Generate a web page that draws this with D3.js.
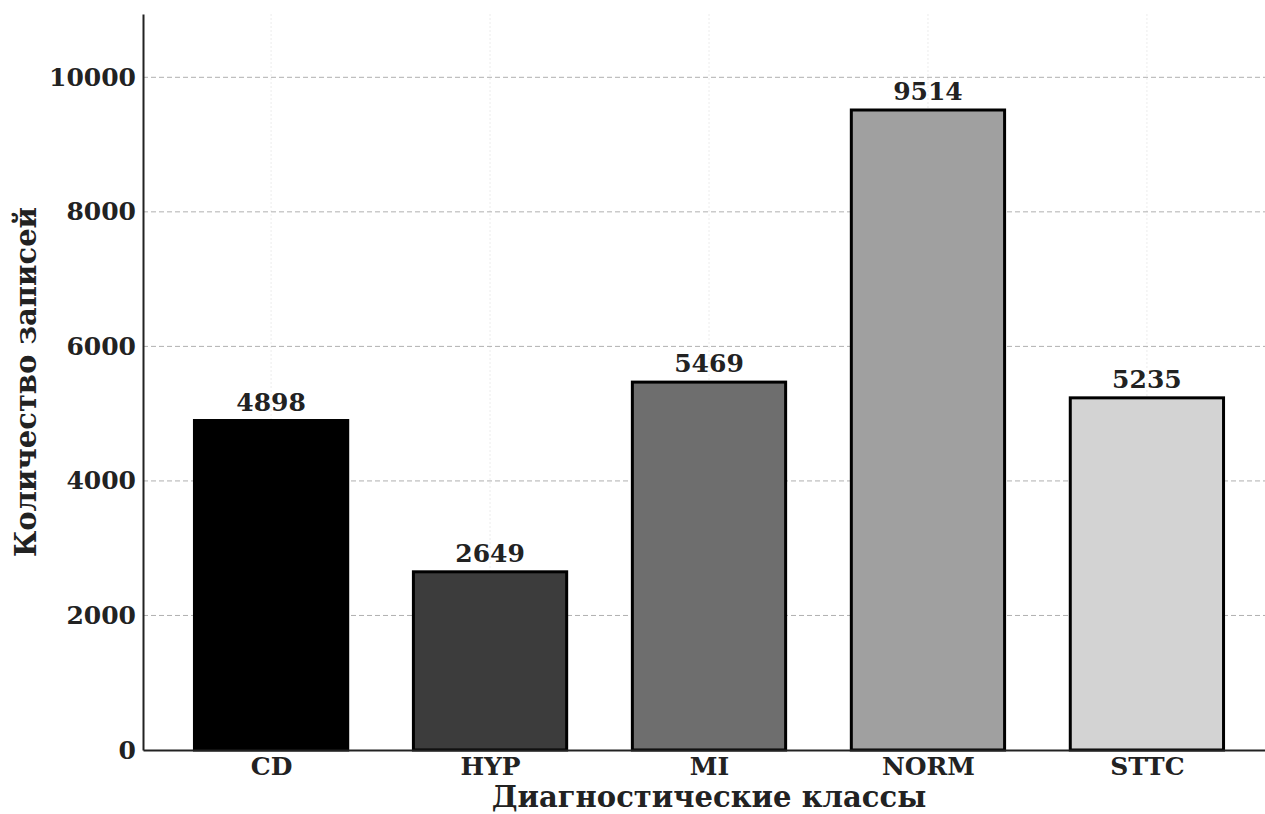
<!DOCTYPE html>
<html>
<head>
<meta charset="utf-8">
<script src="https://cdn.jsdelivr.net/npm/d3@7"></script>
<style>
  html, body { margin: 0; padding: 0; background: #fff; }
  svg { display: block; }
  text { font-family: "DejaVu Serif", serif; font-weight: bold; fill: #222; }
</style>
</head>
<body>
<svg id="chart" width="1265" height="814"></svg>
<script>
// Record counts per diagnostic superclass
const categories = ["CD", "HYP", "MI", "NORM", "STTC"];
const counts = [4898, 2649, 5469, 9514, 5235];
const fills = ["#000000", "#3c3c3c", "#6e6e6e", "#a0a0a0", "#d3d3d3"];
const yTicks = [0, 2000, 4000, 6000, 8000, 10000];
const xTitle = "Диагностические классы";
const yTitle = "Количество записей";

const svg = d3.select("#chart");
const W = 1265, H = 814;
const plot = { left: 143, right: 1275, top: 14, bottom: 750 };
const barWidth = 0.7;

const x = d3.scaleLinear()
  .domain([-0.585, categories.length - 1 + 0.585])
  .range([plot.left, plot.right]);
const y = d3.scaleLinear()
  .domain([0, d3.max(counts) * 1.15])
  .range([plot.bottom, plot.top]);

// Vertical grid (faint dotted) at category centres
svg.append("g")
  .selectAll("line")
  .data(categories)
  .join("line")
  .attr("x1", (d, i) => x(i)).attr("x2", (d, i) => x(i))
  .attr("y1", plot.top).attr("y2", plot.bottom)
  .attr("stroke", "#ececec").attr("stroke-width", 1)
  .attr("stroke-dasharray", "2,2");

// Horizontal dashed grid at y ticks
svg.append("g")
  .selectAll("line")
  .data(yTicks.filter(t => t > 0))
  .join("line")
  .attr("x1", plot.left).attr("x2", plot.right)
  .attr("y1", d => y(d)).attr("y2", d => y(d))
  .attr("stroke", "#b0b0b0").attr("stroke-width", 1)
  .attr("stroke-dasharray", "5,3");

// Bars
svg.append("g")
  .selectAll("rect")
  .data(counts)
  .join("rect")
  .attr("x", (d, i) => x(i - barWidth / 2))
  .attr("width", x(barWidth) - x(0))
  .attr("y", d => y(d))
  .attr("height", d => y(0) - y(d))
  .attr("fill", (d, i) => fills[i])
  .attr("stroke", "#000")
  .attr("stroke-width", 3);

// Value labels above bars
svg.append("g")
  .selectAll("text")
  .data(counts)
  .join("text")
  .attr("x", (d, i) => x(i))
  .attr("y", d => y(d) - 10)
  .attr("text-anchor", "middle")
  .attr("font-size", 25)
  .text(d => d);

// Axes
const yAxis = d3.axisLeft(y).tickValues(yTicks).tickSize(0).tickPadding(7).tickFormat(d3.format("d"));
const gy = svg.append("g").attr("transform", `translate(${plot.left},0)`).call(yAxis);
gy.select(".domain").attr("stroke", "#222").attr("stroke-width", 2);
gy.selectAll("text").attr("font-size", 25).attr("font-family", "DejaVu Serif").attr("font-weight", "bold").attr("fill", "#222");

const xAxis = d3.axisBottom(x).tickValues(d3.range(categories.length)).tickSize(0).tickPadding(7)
  .tickFormat(i => categories[i]);
const gx = svg.append("g").attr("transform", `translate(0,${plot.bottom})`).call(xAxis);
gx.select(".domain").attr("stroke", "#222").attr("stroke-width", 2);
gx.selectAll("text").attr("font-size", 25).attr("font-family", "DejaVu Serif").attr("font-weight", "bold").attr("fill", "#222");

// Axis titles
svg.append("text")
  .attr("x", 709).attr("y", 807)
  .attr("text-anchor", "middle").attr("font-size", 29)
  .text(xTitle);

svg.append("text")
  .attr("transform", `translate(36,${(plot.top + plot.bottom) / 2}) rotate(-90)`)
  .attr("text-anchor", "middle").attr("font-size", 29)
  .text(yTitle);
</script>
</body>
</html>
